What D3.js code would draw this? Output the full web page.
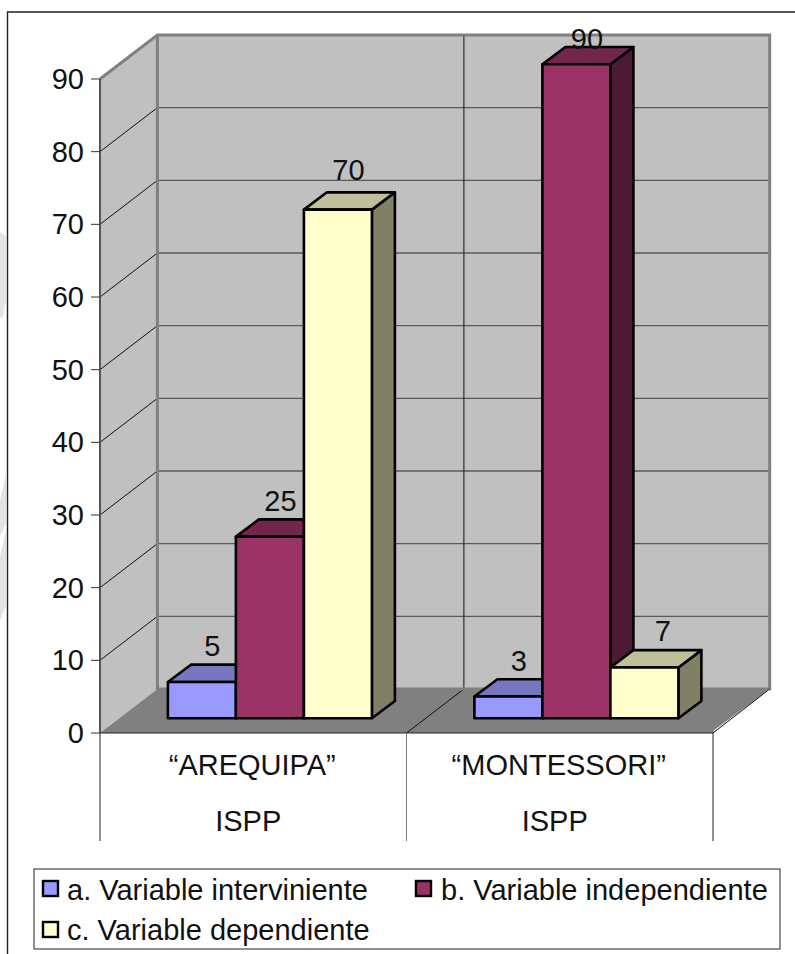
<!DOCTYPE html>
<html>
<head>
<meta charset="utf-8">
<script src="https://cdn.jsdelivr.net/npm/d3@7"></script>
<style>
	html, body { margin: 0; padding: 0; background: #fff; }
	svg { display: block; }
	text { font-family: "Liberation Sans", Arial, sans-serif; fill: #111; }
</style>
</head>
<body>
<svg id="chart" width="795" height="954"></svg>
<script>
// DATA ========================================================================= //
var categories = ["AREQUIPA", "MONTESSORI"],
	categoryLines = [["\u201CAREQUIPA\u201D", "ISPP"], ["\u201CMONTESSORI\u201D", "ISPP"]],
	series = ["a. Variable interviniente", "b. Variable independiente", "c. Variable dependiente"],
	seriesKeys = ["a", "b", "c"],
	valuesA = [5, 3],
	valuesB = [25, 90],
	valuesC = [70, 7],
	ticks = [0, 10, 20, 30, 40, 50, 60, 70, 80, 90];

// SETUP ======================================================================== //
var svg = d3.select("#chart");

var frontL = 100, frontR = 713, frontY = 733,
	wallDx = 57.4, wallDy = 44,      // depth of the chart box
	barDx = 23, barDy = 17.3,        // depth of a bar
	floorDx = 19.9, floorDy = 14.7,  // front of bars relative to front of floor
	fontSize = 29;

var cols = {
	a: {front: "#9999ff", top: "#7777bf", side: "#4d4d80"},
	b: {front: "#993366", top: "#73264d", side: "#4d1a33"},
	c: {front: "#ffffcc", top: "#bfbf99", side: "#808066"}
};

var xCat = d3.scaleBand().domain(categories).range([frontL, frontR]);
var xBar = d3.scaleBand().domain(seriesKeys).range([48, 252]);
// height above the floor, in pixels
var yScale = d3.scaleLinear().domain([0, 90]).range([0, 654]);

var poly = pts => "M" + pts.map(p => p.join(",")).join("L") + "Z";

// faint page watermark showing left of the frame
var watermark = [
	"M0 232 L6 236 L6 300 L3 316 L0 318 Z",
	"M0 500 L6 474 L6 524 L0 536 Z",
	"M6 530 L6 606 L0 620 L0 556 Z"
];
svg.append("g").selectAll("path")
	.data(watermark)
	.enter()
	.append("path")
	.attr("d", d => d)
	.attr("fill", "#e1e4df");

// outer frame, open at the right and bottom
svg.append("path")
	.attr("d", "M7.5 954 L7.5 12 L795 12")
	.attr("fill", "none")
	.attr("stroke", "#222")
	.attr("stroke-width", 1.4);

// WALLS AND FLOOR ============================================================== //
var topH = yScale(90),
	backL = frontL + wallDx,
	backR = frontR + wallDx - 0.7,
	backY = frontY - wallDy;

svg.append("path")
	.attr("d", poly([[frontL, frontY], [frontL, frontY - topH], [backL, backY - topH], [backL, backY]]))
	.attr("fill", "#c0c0c0");
svg.append("rect")
	.attr("x", backL).attr("y", backY - topH)
	.attr("width", backR - backL).attr("height", topH)
	.attr("fill", "#c0c0c0");
svg.append("path")
	.attr("d", poly([[frontL, frontY], [backL, backY], [backR, backY], [frontR, frontY]]))
	.attr("fill", "#808080");

// gridlines
ticks.slice(1, -1).forEach(function(t) {
	var h = yScale(t);
	svg.append("line")
		.attr("x1", frontL).attr("y1", frontY - h)
		.attr("x2", backL).attr("y2", backY - h)
		.attr("stroke", "#111").attr("stroke-width", 1);
	svg.append("line")
		.attr("x1", backL).attr("y1", backY - h)
		.attr("x2", backR).attr("y2", backY - h)
		.attr("stroke", "#5a5a5a").attr("stroke-width", 1.4);
});

// category divider on back wall and floor
var midX = xCat(categories[1]);
svg.append("line")
	.attr("x1", midX + wallDx).attr("y1", backY - topH)
	.attr("x2", midX + wallDx).attr("y2", backY)
	.attr("stroke", "#111").attr("stroke-width", 1);
svg.append("line")
	.attr("x1", midX).attr("y1", frontY)
	.attr("x2", midX + wallDx).attr("y2", backY)
	.attr("stroke", "#111").attr("stroke-width", 1);

// wall borders
svg.append("path")
	.attr("d", `M${frontL} ${frontY - topH} L${backL} ${backY - topH} L${backR} ${backY - topH} L${backR} ${backY} L${backL} ${backY} L${backL} ${backY - topH}`)
	.attr("fill", "none")
	.attr("stroke", "#808080")
	.attr("stroke-width", 3);
svg.append("line")
	.attr("x1", frontL).attr("y1", frontY - topH)
	.attr("x2", frontL).attr("y2", frontY)
	.attr("stroke", "#555").attr("stroke-width", 2);

// right edge of floor, black with a white highlight
svg.append("line")
	.attr("x1", frontR + 1).attr("y1", frontY - 2)
	.attr("x2", backR).attr("y2", backY + 1)
	.attr("stroke", "#fff").attr("stroke-width", 1.2);
svg.append("line")
	.attr("x1", frontR).attr("y1", frontY)
	.attr("x2", backR).attr("y2", backY)
	.attr("stroke", "#111").attr("stroke-width", 1);

// front edge of floor
svg.append("line")
	.attr("x1", frontL).attr("y1", frontY)
	.attr("x2", frontR).attr("y2", frontY)
	.attr("stroke", "#222").attr("stroke-width", 1.2);

// Y AXIS ======================================================================= //
var yAxis = svg.append("g").selectAll("g")
	.data(ticks)
	.enter()
	.append("g");
yAxis.append("line")
	.attr("x1", frontL - 9).attr("x2", frontL)
	.attr("y1", d => frontY - yScale(d))
	.attr("y2", d => frontY - yScale(d))
	.attr("stroke", "#333").attr("stroke-width", 1);
yAxis.append("text")
	.attr("x", frontL - 16)
	.attr("y", d => frontY - yScale(d) + 10)
	.attr("text-anchor", "end")
	.attr("font-size", fontSize)
	.text(d => d);

// X AXIS ======================================================================= //
[frontL, midX, frontR].forEach(function(x, i) {
	svg.append("line")
		.attr("x1", x).attr("y1", frontY)
		.attr("x2", x).attr("y2", 841)
		.attr("stroke", i == 1 ? "#808080" : "#222")
		.attr("stroke-width", 1);
});
categories.forEach(function(c, i) {
	var cx = xCat(c) + xCat.bandwidth() / 2;
	svg.append("text")
		.attr("x", cx - 1).attr("y", 774.5)
		.attr("text-anchor", "middle")
		.attr("font-size", fontSize)
		.text(categoryLines[i][0]);
	svg.append("text")
		.attr("x", cx - 5).attr("y", 830.5)
		.attr("text-anchor", "middle")
		.attr("font-size", fontSize)
		.text(categoryLines[i][1]);
});

// BARS ========================================================================= //
var barData = [];
categories.forEach(function(c, i) {
	barData.push({cat: c, key: "a", value: valuesA[i]});
	barData.push({cat: c, key: "b", value: valuesB[i]});
	barData.push({cat: c, key: "c", value: valuesC[i]});
});

var barBottom = frontY - floorDy,
	bw = xBar.bandwidth();

var bars = svg.append("g").selectAll("g")
	.data(barData)
	.enter()
	.append("g")
	.attr("stroke", "#000")
	.attr("stroke-width", 2.6)
	.attr("stroke-linejoin", "round");

var bx = d => xCat(d.cat) + floorDx + xBar(d.key),
	by = d => barBottom - yScale(d.value);

bars.append("path")
	.attr("d", d => poly([[bx(d) + bw, barBottom], [bx(d) + bw + barDx, barBottom - barDy], [bx(d) + bw + barDx, by(d) - barDy], [bx(d) + bw, by(d)]]))
	.attr("fill", d => cols[d.key].side);
bars.append("path")
	.attr("d", d => poly([[bx(d), by(d)], [bx(d) + barDx, by(d) - barDy], [bx(d) + bw + barDx, by(d) - barDy], [bx(d) + bw, by(d)]]))
	.attr("fill", d => cols[d.key].top);
bars.append("rect")
	.attr("x", bx)
	.attr("y", by)
	.attr("width", bw)
	.attr("height", d => yScale(d.value))
	.attr("fill", d => cols[d.key].front);

// hand nudges for labels that sit off the regular position
var labelNudge = {"MONTESSORI-c": [8, 0], "AREQUIPA-c": [0, -4], "MONTESSORI-b": [0, 11]};

svg.append("g").selectAll("text")
	.data(barData)
	.enter()
	.append("text")
	.attr("x", d => bx(d) + bw / 2 + 10.5 + (labelNudge[d.cat + "-" + d.key] || [0, 0])[0])
	.attr("y", d => by(d) - 26 + (labelNudge[d.cat + "-" + d.key] || [0, 0])[1])
	.attr("text-anchor", "middle")
	.attr("font-size", fontSize)
	.text(d => d.value);

// LEGEND ======================================================================= //
svg.append("rect")
	.attr("x", 34).attr("y", 869)
	.attr("width", 746).attr("height", 80)
	.attr("fill", "#fff")
	.attr("stroke", "#555")
	.attr("stroke-width", 1.3);

var legendPos = [[43, 881, 67, 899.5], [416, 881, 441, 899.5], [43, 922, 67, 939.5]];

var legend = svg.append("g").selectAll("g")
	.data(series)
	.enter()
	.append("g");
legend.append("rect")
	.attr("x", (d, i) => legendPos[i][0])
	.attr("y", (d, i) => legendPos[i][1])
	.attr("width", 15).attr("height", 15)
	.attr("fill", (d, i) => cols[seriesKeys[i]].front)
	.attr("stroke", "#000").attr("stroke-width", 2.4);
legend.append("text")
	.attr("x", (d, i) => legendPos[i][2])
	.attr("y", (d, i) => legendPos[i][3])
	.attr("font-size", fontSize)
	.text(d => d);
</script>
</body>
</html>
